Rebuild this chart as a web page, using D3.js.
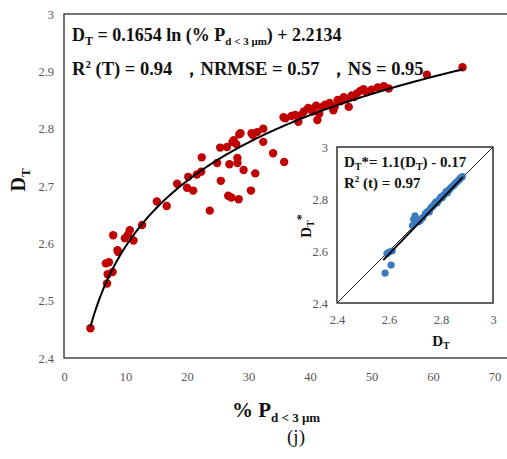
<!DOCTYPE html>
<html><head><meta charset="utf-8">
<script src="https://cdn.jsdelivr.net/npm/d3@7"></script>
<style>
html,body{margin:0;padding:0;background:#fff;}
svg{display:block;font-family:"Liberation Serif","Times New Roman",serif;}
</style></head>
<body>
<svg id="c" width="507" height="459"></svg>
<script>
// ---------- DATA ----------
const mainX = [4.3,6.8,7.3,7.1,7.9,7.0,8.8,8.0,8.7,9.9,10.4,10.7,11.3,12.7,15.1,16.7,18.4,20.0,20.2,21.0,21.6,22.3,22.4,23.7,24.9,25.4,25.5,26.5,26.7,26.9,27.2,27.4,27.6,28.0,28.2,28.2,28.4,28.5,28.7,29.2,30.4,30.5,30.7,31.1,31.4,32.4,32.4,34.0,35.8,35.7,36.0,37.0,37.6,38.1,38.6,39.0,39.7,40.0,40.4,41.2,41.0,41.5,42.0,42.5,43.2,43.8,44.0,44.5,45.0,45.5,46.0,46.3,46.8,47.2,47.7,48.2,48.7,49.2,50.0,51.0,52.0,52.8,59.0,64.8];
const mainY = [2.452,2.565,2.567,2.546,2.550,2.530,2.585,2.614,2.588,2.609,2.615,2.623,2.605,2.632,2.673,2.665,2.704,2.697,2.716,2.692,2.720,2.725,2.750,2.657,2.740,2.767,2.709,2.768,2.683,2.738,2.680,2.777,2.780,2.773,2.749,2.740,2.677,2.790,2.792,2.728,2.692,2.792,2.789,2.722,2.794,2.800,2.777,2.757,2.742,2.820,2.818,2.822,2.824,2.812,2.824,2.830,2.836,2.835,2.830,2.815,2.840,2.826,2.838,2.842,2.845,2.832,2.838,2.850,2.848,2.855,2.852,2.838,2.858,2.855,2.862,2.866,2.869,2.864,2.868,2.872,2.874,2.870,2.894,2.907];
const fitA = 0.1654, fitB = 2.2134, fitXRange = [4.3, 65];

const insetX = [2.585,2.608,2.592,2.600,2.612,2.690,2.695,2.700,2.705,2.712,2.720,2.730,2.740,2.748,2.755,2.760,2.765,2.770,2.775,2.780,2.785,2.790,2.795,2.800,2.805,2.810,2.815,2.820,2.825,2.830,2.835,2.840,2.845,2.850,2.855,2.860,2.865,2.870,2.875,2.882];
const insetY = [2.515,2.546,2.590,2.596,2.600,2.698,2.722,2.735,2.725,2.712,2.716,2.728,2.744,2.752,2.750,2.764,2.770,2.774,2.780,2.788,2.785,2.794,2.800,2.808,2.805,2.814,2.820,2.828,2.824,2.834,2.840,2.845,2.850,2.854,2.860,2.864,2.870,2.874,2.880,2.886];
const insetLineX = [2.578, 2.885], insetLineY = [2.565, 2.885];

const mainXTicks = [0,10,20,30,40,50,60,70];
const mainYTicks = [2.4,2.5,2.6,2.7,2.8,2.9,3];
const insetTicks = [2.4,2.6,2.8,3];

// ---------- DRAW ----------
const svg = d3.select("#c");
const x = d3.scaleLinear().domain([0,70]).range([64,494.5]);
const y = d3.scaleLinear().domain([2.4,3]).range([358,14]);
const fmt = d => d===3 ? "3" : d3.format(".1f")(d);
const SERIF = "Liberation Serif, Times New Roman, serif";

// frame
svg.append("rect").attr("x",64).attr("y",14).attr("width",470).attr("height",344)
  .attr("fill","#fff").attr("stroke","#3a3a3a").attr("stroke-width",1.4);

const ax = svg.append("g").attr("transform","translate(0,358)")
  .call(d3.axisBottom(x).tickValues(mainXTicks).tickSize(0).tickPadding(14).tickFormat(d3.format("d")));
const ay = svg.append("g").attr("transform","translate(64,0)")
  .call(d3.axisLeft(y).tickValues(mainYTicks).tickSize(0).tickPadding(10).tickFormat(fmt));
[ax,ay].forEach(g=>{g.attr("font-family",SERIF).select(".domain").remove();
  g.selectAll("text").attr("font-family",SERIF).attr("font-size",12.5).attr("fill","#555");});

// points
svg.append("g").selectAll("circle").data(mainX.map((v,i)=>[v,mainY[i]])).join("circle")
  .attr("cx",d=>x(d[0])).attr("cy",d=>y(d[1])).attr("r",4.2).attr("fill","#c00000");

// fit curve
const xs = d3.range(fitXRange[0], fitXRange[1]+0.001, 0.2);
svg.append("path").datum(xs).attr("fill","none").attr("stroke","#000").attr("stroke-width",2)
  .attr("d", d3.line().x(d=>x(d)).y(d=>y(fitA*Math.log(d)+fitB)));

// annotations
const t1 = svg.append("text").attr("x",72).attr("y",41).attr("font-weight","bold").attr("font-size",18).attr("fill","#111");
t1.append("tspan").text("D");
t1.append("tspan").attr("font-size",12).attr("dy",4).text("T");
t1.append("tspan").attr("dy",-4).text(" = 0.1654 ln (% P");
t1.append("tspan").attr("font-size",11).attr("dy",4).text("d < 3 μm");
t1.append("tspan").attr("dy",-4).text(") + 2.2134");

const t2 = svg.append("text").attr("x",72).attr("y",75).attr("font-weight","bold").attr("font-size",18.5).attr("fill","#111")
  .attr("xml:space","preserve").style("white-space","pre");
t2.append("tspan").text("R");
t2.append("tspan").attr("font-size",11).attr("dy",-7).text("2");
t2.append("tspan").attr("dy",7).text(" (T) = 0.94  ，NRMSE = 0.57  ，NS = 0.95");

// axis titles
const yl = svg.append("text").attr("transform","translate(25,180) rotate(-90)").attr("text-anchor","middle")
  .attr("font-weight","bold").attr("font-size",20).attr("fill","#111");
yl.append("tspan").text("D");
yl.append("tspan").attr("font-size",13).attr("dy",5).text("T");

const xl = svg.append("text").attr("x",232).attr("y",417).attr("font-weight","bold").attr("font-size",21).attr("fill","#111");
xl.append("tspan").text("% P");
xl.append("tspan").attr("font-size",13).attr("dy",5).text("d < 3 μm");

svg.append("text").attr("x",296).attr("y",443).attr("text-anchor","middle").attr("font-size",19).attr("fill","#111").text("(j)");

// ---------- INSET ----------
const ix = d3.scaleLinear().domain([2.4,3]).range([337,493]);
const iy = d3.scaleLinear().domain([2.4,3]).range([303,147]);
svg.append("rect").attr("x",337).attr("y",147).attr("width",156).attr("height",156)
  .attr("fill","#fff").attr("stroke","#222").attr("stroke-width",1.4);
svg.append("line").attr("x1",ix(2.4)).attr("y1",iy(2.4)).attr("x2",ix(3)).attr("y2",iy(3))
  .attr("stroke","#222").attr("stroke-width",1);

const iax = svg.append("g").attr("transform","translate(0,303)")
  .call(d3.axisBottom(ix).tickValues(insetTicks).tickSize(0).tickPadding(12).tickFormat(fmt));
const iay = svg.append("g").attr("transform","translate(337,0)")
  .call(d3.axisLeft(iy).tickValues(insetTicks).tickSize(0).tickPadding(9).tickFormat(fmt));
[iax,iay].forEach(g=>{g.attr("font-family",SERIF).select(".domain").remove();
  g.selectAll("text").attr("font-family",SERIF).attr("font-size",12.5).attr("fill","#555");});

svg.append("g").selectAll("circle").data(insetX.map((v,i)=>[v,insetY[i]])).join("circle")
  .attr("cx",d=>ix(d[0])).attr("cy",d=>iy(d[1])).attr("r",3.6).attr("fill","#3a7bbf");

svg.append("line").attr("x1",ix(insetLineX[0])).attr("y1",iy(insetLineY[0]))
  .attr("x2",ix(insetLineX[1])).attr("y2",iy(insetLineY[1])).attr("stroke","#000").attr("stroke-width",2);

const it1 = svg.append("text").attr("x",344).attr("y",167).attr("font-weight","bold").attr("font-size",15).attr("fill","#111");
it1.append("tspan").text("D");
it1.append("tspan").attr("font-size",10).attr("dy",3).text("T");
it1.append("tspan").attr("dy",-3).text("*= 1.1(D");
it1.append("tspan").attr("font-size",10).attr("dy",3).text("T");
it1.append("tspan").attr("dy",-3).text(") - 0.17");

const it2 = svg.append("text").attr("x",344).attr("y",188).attr("font-weight","bold").attr("font-size",15).attr("fill","#111");
it2.append("tspan").text("R");
it2.append("tspan").attr("font-size",9).attr("dy",-6).text("2");
it2.append("tspan").attr("dy",6).text(" (t) = 0.97");

const iyl = svg.append("text").attr("transform","translate(311,226) rotate(-90)").attr("text-anchor","middle")
  .attr("font-weight","bold").attr("font-size",15).attr("fill","#111");
iyl.append("tspan").text("D");
iyl.append("tspan").attr("font-size",10).attr("dy",3).text("T");
iyl.append("tspan").attr("font-size",12).attr("dy",-9).text("*");

const ixl = svg.append("text").attr("x",441).attr("y",346).attr("text-anchor","middle")
  .attr("font-weight","bold").attr("font-size",15).attr("fill","#111");
ixl.append("tspan").text("D");
ixl.append("tspan").attr("font-size",10).attr("dy",3).text("T");
</script>
</body></html>
